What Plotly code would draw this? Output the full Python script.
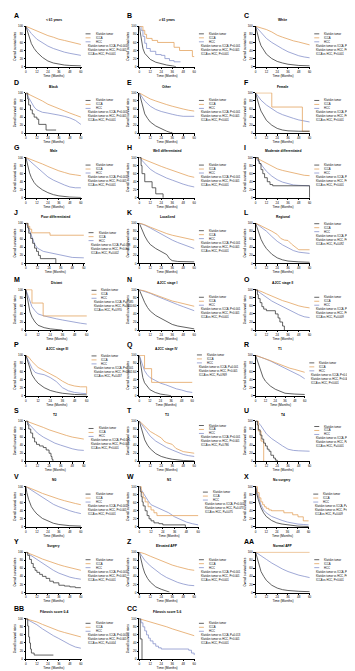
import plotly.graph_objects as go

W, H = 355, 671

LETTERS = ["A", "B", "C", "D", "E", "F", "G", "H", "I", "J", "K", "L", "M", "N", "O",
           "P", "Q", "R", "S", "T", "U", "V", "W", "X", "Y", "Z", "AA", "BB", "CC"]
TITLES = ["< 61 years", "≥ 61 years", "White", "Black", "Other", "Female", "Male",
          "Well differentiated", "Moderate differentiated", "Poor differentiated",
          "Localized", "Regional", "Distant", "AJCC stage I", "AJCC stage II",
          "AJCC stage III", "AJCC stage IV", "T1", "T2", "T3", "T4", "N0", "N1",
          "No surgery", "Surgery", "Elevated AFP", "Normal AFP",
          "Fibrosis score 0-4", "Fibrosis score 5-6"]
SERIES = ["Klatskin tumor", "ICCA", "HCC"]
X_TICKS = [0, 12, 24, 36, 48, 60]
Y_TICKS = [0, 20, 40, 60, 80, 100]

# p values: Klatskin vs ICCA, Klatskin vs HCC, ICCA vs HCC
P_K_I = {"I": "P=0.106", "J": "P=0.008", "M": "P=0.085", "Q": "P=0.001", "X": "P=0.003",
         "CC": "P=0.013"}
P_K_H = {"M": "P=0.010", "U": "P=0.133", "W": "P=0.073"}
P_I_H = {"J": "P=0.002", "L": "P=0.092", "M": "P=0.970", "O": "P=0.009", "P": "P=0.437",
         "Q": "P=0.969", "T": "P=0.786", "U": "P=0.001", "W": "P=0.075", "X": "P=0.009",
         "BB": "P=0.004"}

# ---- survival curves (time in months, overall survival %) ----
A_K = [(0,100),(2,85),(4,70),(6,57),(9,45),(12,36),(18,23),(24,14),(30,9),(36,6),(42,4),(48,3),(54,2),(60,2)]
A_I = [(0,100),(6,94),(12,88),(18,83),(24,77),(30,73),(36,68),(42,65),(48,62),(54,58),(60,55)]
A_H = [(0,100),(3,90),(6,82),(12,68),(18,59),(24,51),(30,45),(36,40),(42,36),(48,33),(54,30),(60,28)]

B_K = [(0,100),(1,85),(2,70),(3,55),(4,45),(6,33),(9,24),(12,18),(18,11),(24,7),(30,4),(36,2),(40,0)]
B_I = [(0,100),(4,90),(6,80),(8,70),(14,65),(20,60),(38,48),(44,40),(58,25),(60,25)]
B_H = [(0,100),(2,90),(4,75),(6,58),(8,45),(12,38),(18,30),(24,28),(28,20),(33,15),(38,12),(45,12)]

C_K = [(0,100),(2,80),(4,65),(6,52),(9,40),(12,31),(18,20),(24,13),(30,9),(36,6),(48,3),(60,2)]
C_I = [(0,100),(6,96),(12,92),(18,86),(24,78),(30,73),(36,68),(42,64),(48,61),(54,58),(60,54)]
C_H = [(0,100),(3,92),(6,84),(12,70),(18,60),(24,51),(30,44),(36,37),(42,31),(48,27),(54,24),(60,22)]

D_K = [(0,100),(2,85),(3,70),(5,58),(7,48),(9,40),(12,35),(14,22),(22,8),(33,8)]
D_I = [(0,100),(6,94),(12,88),(18,80),(24,72),(30,66),(36,62),(42,56),(48,50),(54,45),(60,40)]
D_H = [(0,100),(3,88),(6,75),(9,65),(12,58),(18,52),(24,50),(30,48),(36,45),(42,42),(48,38),(54,32),(60,22)]

E_K = [(0,100),(2,80),(4,62),(6,48),(9,37),(12,28),(18,18),(24,11),(30,5),(34,2),(36,2)]
E_I = [(0,100),(6,92),(12,85),(18,80),(24,75),(30,71),(36,67),(42,63),(48,60),(54,57),(60,55)]
E_H = [(0,100),(3,90),(6,80),(12,67),(18,59),(24,54),(30,50),(36,47),(42,44),(48,42),(60,42)]

F_K = [(0,100),(2,82),(4,68),(6,55),(9,42),(12,32),(18,20),(24,12),(30,8),(36,6),(48,5),(60,5)]
F_I = [(0,100),(18,65),(52,5),(60,5)]
F_H = [(0,100),(3,90),(6,82),(12,70),(18,60),(24,52),(30,46),(36,41),(42,37),(48,33),(54,30),(60,28)]

G_K = [(0,100),(2,80),(4,62),(6,50),(9,38),(12,30),(18,20),(24,13),(30,8),(36,5),(42,3),(48,2),(60,1)]
G_I = [(0,100),(6,95),(12,90),(18,84),(24,78),(30,72),(36,67),(42,63),(48,59),(54,57),(60,55)]
G_H = [(0,100),(3,94),(6,88),(12,74),(18,62),(24,52),(30,44),(36,37),(42,32),(48,27),(54,25),(60,25)]

H_K = [(0,100),(2,80),(3,60),(6,40),(14,25),(18,10),(26,0)]
H_I = [(0,100),(6,94),(12,88),(18,83),(24,78),(30,73),(36,68),(42,63),(48,58),(54,54),(60,51)]
H_H = [(0,100),(3,93),(6,85),(12,71),(18,62),(24,55),(30,49),(36,44),(42,38),(48,34),(54,30),(60,27)]

I_K = [(0,100),(3,92),(4,85),(6,70),(8,60),(10,50),(13,40),(16,33),(19,30),(60,30),(60,0)]
I_I = [(0,100),(6,93),(12,86),(18,78),(24,72),(30,68),(36,65),(42,61),(48,58),(54,56),(60,55)]
I_H = [(0,100),(3,92),(6,84),(12,66),(18,54),(24,45),(30,39),(36,35),(42,32),(48,31),(60,30)]

J_K = [(0,100),(2,88),(3,75),(5,62),(7,50),(9,38),(11,30),(13,20),(15,12),(31,12),(31,0)]
J_I = [(0,100),(2,92),(4,85),(6,76),(25,70),(60,70)]
J_H = [(0,100),(2,92),(4,80),(6,65),(9,48),(12,38),(18,30),(24,27),(30,24),(36,20),(42,17),(48,15),(60,14)]

K_K = [(0,100),(3,82),(6,68),(9,56),(12,47),(18,37),(24,30),(30,22),(33,12),(36,7),(42,5),(48,5),(60,4)]
K_I = [(0,100),(6,96),(12,90),(18,84),(24,78),(30,74),(36,70),(42,67),(48,64),(54,61),(60,58)]
K_H = [(0,100),(6,95),(12,88),(18,80),(24,72),(30,65),(36,58),(42,52),(48,47),(54,42),(60,37)]

L_K = [(0,100),(3,80),(6,60),(9,47),(12,37),(18,23),(24,14),(30,9),(36,6),(48,4),(60,3)]
L_I = [(0,100),(6,94),(12,88),(18,80),(24,72),(28,62),(32,58),(36,57),(40,48),(44,40),(48,34),(60,34)]
L_H = [(0,100),(6,91),(12,80),(18,67),(24,55),(30,46),(36,38),(42,32),(48,28),(54,26),(60,25)]

M_K = [(0,100),(1,85),(2,68),(3,55),(4,45),(6,32),(9,20),(12,12),(18,6),(24,3),(30,2),(36,0)]
M_I = [(0,100),(6,67),(17,35),(60,35)]
M_H = [(0,100),(2,85),(4,70),(6,58),(9,48),(12,40),(18,35),(24,31),(30,28),(36,25),(42,22),(48,20),(54,17),(60,15)]

N_K = [(0,100),(3,83),(6,68),(9,56),(12,47),(18,36),(24,28),(30,20),(36,14),(42,10),(48,8),(54,6),(60,3)]
N_I = [(0,100),(6,97),(12,92),(18,87),(24,82),(30,77),(36,72),(42,69),(48,66),(54,63),(60,59)]
N_H = [(0,100),(6,96),(12,91),(18,85),(24,79),(30,73),(36,68),(42,63),(48,58),(54,53),(60,48)]

O_K = [(0,100),(2,88),(3,78),(5,68),(7,58),(9,52),(12,48),(22,40),(25,30),(27,20),(30,10),(32,0)]
O_I = [(0,100),(6,96),(12,90),(18,84),(24,78),(30,73),(36,69),(42,64),(48,60),(54,57),(60,55)]
O_H = [(0,100),(6,90),(12,80),(18,72),(24,65),(30,58),(36,52),(42,45),(48,38),(54,33),(60,31)]

P_K = [(0,100),(2,82),(4,65),(6,52),(9,40),(12,31),(18,20),(24,13),(30,9),(36,6),(48,3),(60,2)]
P_I = [(0,100),(3,95),(6,85),(12,70),(18,62),(24,55),(30,46),(36,36),(42,28),(48,24),(54,22),(60,22),(60,5)]
P_H = [(0,100),(3,85),(6,68),(9,58),(12,55),(18,52),(24,45),(30,35),(36,20),(42,12),(48,8),(54,6),(60,5)]

Q_K = [(0,100),(1,85),(2,68),(3,55),(4,45),(6,32),(9,22),(12,15),(18,8),(24,4),(30,2),(36,0)]
Q_I = [(0,100),(6,67),(14,33),(60,33)]
Q_H = [(0,100),(2,88),(4,75),(6,62),(9,52),(12,45),(18,38),(24,31),(30,27),(36,22),(42,17),(48,14),(54,10),(60,8)]

R_K = [(0,100),(2,88),(4,74),(6,60),(9,46),(12,36),(18,24),(24,16),(30,10),(36,6),(48,4),(60,3)]
R_I = [(0,100),(6,96),(12,92),(18,87),(24,82),(30,77),(36,72),(42,68),(48,65),(54,61),(60,58)]
R_H = [(0,100),(6,96),(12,91),(18,86),(24,80),(30,74),(36,68),(42,63),(48,57),(54,50),(60,42)]

S_K = [(0,100),(2,90),(3,80),(5,70),(7,58),(9,48),(11,42),(14,38),(18,34),(21,28),(24,20),(26,12),(27,5),(28,0)]
S_I = [(0,100),(6,95),(12,90),(18,84),(24,78),(30,73),(36,68),(42,64),(48,60),(54,57),(60,55)]
S_H = [(0,100),(3,92),(6,85),(12,70),(18,60),(24,52),(30,45),(36,40),(42,35),(48,31),(54,28),(60,27)]

T_K = [(0,100),(2,82),(4,66),(6,53),(9,40),(12,31),(18,19),(24,12),(30,8),(36,5),(48,2),(60,1)]
T_I = [(0,100),(3,94),(6,86),(12,74),(18,66),(24,58),(27,50),(30,46),(36,42),(40,32),(48,24),(54,22),(60,20)]
T_H = [(0,100),(3,90),(6,79),(12,62),(18,50),(24,41),(30,34),(36,28),(42,22),(48,17),(54,14),(60,12)]

U_K = [(0,100),(2,90),(3,78),(5,65),(7,55),(9,45),(11,38),(13,30),(15,25),(17,15),(20,8),(22,3),(24,0)]
U_I = [(0,100),(3,75),(6,50),(9,0)]
U_H = [(0,100),(3,96),(6,88),(9,78),(12,68),(18,56),(24,46),(30,38),(36,30),(42,27),(48,26),(60,25)]

V_K = [(0,100),(1,85),(3,68),(6,50),(9,40),(12,32),(18,21),(24,14),(30,9),(36,6),(48,3),(60,2)]
V_I = [(0,100),(6,95),(12,89),(18,83),(24,78),(30,73),(36,69),(42,65),(48,61),(54,58),(60,55)]
V_H = [(0,100),(6,91),(12,81),(18,72),(24,63),(30,56),(36,50),(42,44),(48,40),(54,36),(60,33)]

W_K = [(0,100),(1,88),(2,75),(3,62),(4,52),(6,40),(8,28),(10,20),(12,15),(15,10),(20,8),(24,5),(47,0)]
W_I = [(0,100),(2,85),(4,72),(6,62),(9,50),(12,42),(15,35),(18,28),(60,28)]
W_H = [(0,100),(2,92),(4,82),(6,75),(9,65),(12,55),(18,48),(24,42),(30,35),(36,25),(42,18),(48,12),(54,8),(60,5)]

X_K = [(0,100),(1,85),(3,68),(6,48),(9,35),(12,26),(18,16),(24,10),(30,7),(36,5),(48,2),(60,1)]
X_I = [(0,100),(2,85),(4,72),(6,62),(8,55),(10,50),(12,46),(15,42),(18,40),(32,35),(42,30),(48,25),(54,15),(60,15)]
X_H = [(0,100),(2,85),(4,70),(6,55),(9,42),(12,35),(18,26),(24,20),(30,16),(36,12),(42,9),(48,7),(54,6),(60,5)]

Y_K = [(0,100),(2,92),(4,82),(6,72),(8,62),(10,55),(12,50),(15,45),(18,40),(22,35),(26,28),(30,24),(36,18),(42,16),(48,14),(54,12),(60,12)]
Y_I = [(0,100),(6,95),(12,89),(18,83),(24,78),(30,73),(36,69),(42,65),(48,62),(54,58),(60,55)]
Y_H = [(0,100),(6,91),(12,81),(18,71),(24,63),(30,55),(36,48),(42,43),(48,38),(54,35),(60,33)]

Z_K = [(0,100),(2,78),(4,62),(6,48),(9,35),(12,26),(18,14),(24,8),(30,4),(33,1)]
Z_I = [(0,100),(6,96),(12,90),(18,84),(24,78),(30,73),(36,68),(42,64),(48,60),(54,57),(60,55)]
Z_H = [(0,100),(3,90),(6,80),(12,66),(18,55),(24,45),(30,37),(36,30),(42,25),(48,21),(54,18),(60,17)]

AA_K = [(0,100),(2,82),(4,66),(6,52),(9,40),(12,30),(18,18),(24,11),(30,7),(36,5),(48,3),(60,2)]
AA_I = [(0,100),(60,100)]
AA_H = [(0,100),(6,92),(12,82),(18,73),(24,65),(30,58),(36,52),(42,47),(48,43),(54,40),(60,37)]

BB_K = [(0,100),(2,82),(3,55),(4,40),(5,25),(6,15),(9,10),(30,10)]
BB_I = [(0,100),(6,96),(12,92),(18,86),(24,80),(30,75),(36,70),(42,66),(48,62),(54,58),(60,55)]
BB_H = [(0,100),(6,93),(12,85),(18,75),(24,66),(30,58),(36,51),(42,43),(48,36),(54,30),(60,27)]

CC_K = [(0,100),(1,50),(3,0)]
CC_I = [(0,100),(6,96),(12,93),(18,89),(24,85),(30,80),(36,75),(42,71),(48,67),(54,62),(60,58)]
CC_H = [(0,100),(2,90),(4,80),(6,70),(8,60),(10,52),(12,45),(15,38),(18,32),(21,28),(24,25),(54,22),(57,15),(60,10)]

# curves drawn as visible steps (small groups)
STEP_CURVES = {"B_I", "B_H", "D_K", "F_I", "H_K", "I_K", "J_K", "J_I", "M_I", "O_K", "Q_I",
               "S_K", "U_K", "U_I", "W_K", "W_I", "X_I", "Y_K", "BB_K", "CC_K", "CC_H"}

CURVES = {
    "A": (A_K, A_I, A_H), "B": (B_K, B_I, B_H), "C": (C_K, C_I, C_H),
    "D": (D_K, D_I, D_H), "E": (E_K, E_I, E_H), "F": (F_K, F_I, F_H),
    "G": (G_K, G_I, G_H), "H": (H_K, H_I, H_H), "I": (I_K, I_I, I_H),
    "J": (J_K, J_I, J_H), "K": (K_K, K_I, K_H), "L": (L_K, L_I, L_H),
    "M": (M_K, M_I, M_H), "N": (N_K, N_I, N_H), "O": (O_K, O_I, O_H),
    "P": (P_K, P_I, P_H), "Q": (Q_K, Q_I, Q_H), "R": (R_K, R_I, R_H),
    "S": (S_K, S_I, S_H), "T": (T_K, T_I, T_H), "U": (U_K, U_I, U_H),
    "V": (V_K, V_I, V_H), "W": (W_K, W_I, W_H), "X": (X_K, X_I, X_H),
    "Y": (Y_K, Y_I, Y_H), "Z": (Z_K, Z_I, Z_H), "AA": (AA_K, AA_I, AA_H),
    "BB": (BB_K, BB_I, BB_H), "CC": (CC_K, CC_I, CC_H),
}

# ---- styling / layout ----
COLORS = ["#3b3b3b", "#E3A35F", "#8893CC"]
FONT = "Liberation Sans, Arial, sans-serif"
COL_X0 = [17, 131, 248]
COL_X1 = [73, 187, 303]
ROW_TOP = [16, 83, 148, 214, 281, 347, 413, 479, 545, 612]
PLOT_H = 41
X1_OVERRIDE = {"J": 76, "M": 79, "P": 79, "S": 76, "Q": 185, "R": 298, "W": 191, "X": 302, "AA": 303}
LEG_DY = {"L": 1, "M": 1, "P": 1, "Q": 0, "T": 5, "U": 6, "W": 6, "BB": 5, "CC": 5, "J": 10}
LEG_FONT = 2.7


def px(x):
    return x / W


def py(y):
    return 1 - y / H


fig = go.Figure()
annotations = []
shapes = []

for idx, L in enumerate(LETTERS):
    r, c = divmod(idx, 3)
    x0 = COL_X0[c]
    x1 = X1_OVERRIDE.get(L, COL_X1[c])
    top = ROW_TOP[r]
    bot = top + PLOT_H
    n = idx + 1
    xs = "" if n == 1 else str(n)

    for si in [2, 1, 0]:
        pts = CURVES[L][si]
        key = f"{L}_{'KIH'[si]}"
        fig.add_trace(go.Scatter(
            x=[p[0] for p in pts], y=[p[1] for p in pts], mode="lines",
            name=SERIES[si],
            line=dict(color=COLORS[si], width=0.8,
                      shape="hv" if key in STEP_CURVES else "linear"),
            xaxis="x" + xs, yaxis="y" + xs, showlegend=False, hoverinfo="skip"))

    axis_common = dict(showline=True, linecolor="black", linewidth=0.6, ticks="outside",
                       ticklen=1.5, tickwidth=0.5, tickcolor="black", showgrid=False,
                       zeroline=False, tickfont=dict(size=3.0, family=FONT, color="black"))
    fig.update_layout(**{
        "xaxis" + xs: dict(domain=[px(x0), px(x1)], anchor="y" + xs, range=[0, 60.8],
                           tickvals=X_TICKS,
                           title=dict(text="Time (Months)", standoff=1,
                                      font=dict(size=3.3, family=FONT, color="black")),
                           **axis_common),
        "yaxis" + xs: dict(domain=[py(bot), py(top)], anchor="x" + xs, range=[0, 101],
                           tickvals=Y_TICKS,
                           title=dict(text="Overall survival rates", standoff=1.5,
                                      font=dict(size=3.1, family=FONT, color="black")),
                           **axis_common),
    })

    # panel letter and title
    annotations.append(dict(x=px(x0 - 14), y=py(top - 10), xref="paper", yref="paper",
                            text=f"<b>{L}</b>", showarrow=False, xanchor="left", yanchor="middle",
                            font=dict(size=7, family=FONT, color="black")))
    annotations.append(dict(x=px((x0 + x1) / 2), y=py(top - 6), xref="paper", yref="paper",
                            text=f"<b>{TITLES[idx]}</b>", showarrow=False, xanchor="center",
                            yanchor="middle", font=dict(size=3.3, family=FONT, color="black")))

    # legend
    lx = x1 + 4
    ly = top + LEG_DY.get(L, 8)
    for si in range(3):
        yy = ly + 4 * si
        shapes.append(dict(type="line", xref="paper", yref="paper", x0=px(lx), x1=px(lx + 5),
                           y0=py(yy), y1=py(yy), line=dict(color=COLORS[si], width=0.8)))
        annotations.append(dict(x=px(lx + 8), y=py(yy), xref="paper", yref="paper",
                                text=SERIES[si], showarrow=False, xanchor="left", yanchor="middle",
                                font=dict(size=LEG_FONT, family=FONT, color="black")))
    ptexts = [f"Klatskin tumor vs ICCA, {P_K_I.get(L, 'P<0.001')}",
              f"Klatskin tumor vs HCC, {P_K_H.get(L, 'P<0.001')}",
              f"ICCA vs HCC, {P_I_H.get(L, 'P<0.001')}"]
    for pi, t in enumerate(ptexts):
        yy = ly + 12 + 4 * pi
        annotations.append(dict(x=px(lx), y=py(yy), xref="paper", yref="paper",
                                text=t, showarrow=False, xanchor="left", yanchor="middle",
                                font=dict(size=LEG_FONT, family=FONT, color="black")))

fig.update_layout(width=W, height=H, margin=dict(l=0, r=0, t=0, b=0),
                  paper_bgcolor="white", plot_bgcolor="white",
                  annotations=annotations, shapes=shapes, showlegend=False)

fig.write_html("out.html")
